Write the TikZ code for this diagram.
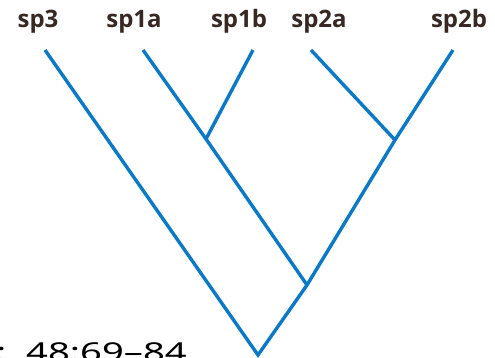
\documentclass[tikz,border=0pt]{standalone}
\usepackage{graphicx}
\usepackage{fontspec}
\setmainfont{Open Sans}
\newfontfamily\citefont{Noto Sans}
\definecolor{branch}{RGB}{10,122,200}
\definecolor{labeltext}{RGB}{55,40,35}
\tikzset{
  branchline/.style={draw=branch, line width=3.4pt},
  taxon/.style={font=\fontsize{24}{26}\selectfont\bfseries, text=labeltext, inner sep=0pt, anchor=base},
  citation/.style={font=\citefont\fontsize{26}{28}\selectfont, text=black, inner sep=0pt, anchor=base west}
}
\begin{document}
\begin{tikzpicture}[x=1pt,y=1pt]
\useasboundingbox (0,0) rectangle (495,357);
% labels
\node[taxon] (l3)  at (38,329)  {sp3};
\node[taxon] (l1a) at (134,329) {sp1a};
\node[taxon] (l1b) at (239,329) {sp1b};
\node[taxon] (l2a) at (319,329) {sp2a};
\node[taxon] (l2b) at (459,329) {sp2b};
% tips
\coordinate (t3)  at (45,307);
\coordinate (t1a) at (143,307);
\coordinate (t1b) at (253,307);
\coordinate (t2a) at (311,307);
\coordinate (t2b) at (453,307);
% internal nodes
\coordinate (n1)   at (206,218);
\coordinate (n2)   at (395,217);
\coordinate (n12)  at (307,72);
\coordinate (root) at (258,2);
% branches
\draw[branchline] (t3) -- (root) -- (n12) -- (n2) -- (t2b);
\draw[branchline] (t1a) -- (n1) -- (n12);
\draw[branchline] (t1b) -- (n1);
\draw[branchline] (t2a) -- (n2);
% cut-off citation
\begin{scope}
\clip (0,0) rectangle (495,357);
\node[citation] (citecolon) at (-4,-4) {\scalebox{1.47}[1]{:}};
\node[citation] (cite) at (26,-4) {\scalebox{1.47}[1]{48:69–84}};
\end{scope}
\end{tikzpicture}
\end{document}
